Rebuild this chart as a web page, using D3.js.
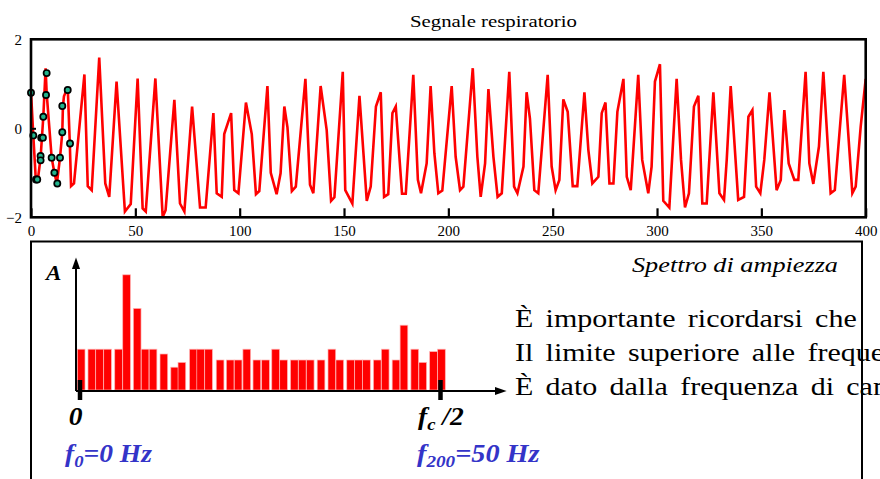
<!DOCTYPE html>
<html>
<head>
<meta charset="utf-8">
<script src="https://cdn.jsdelivr.net/npm/d3@7"></script>
<style>
  body { margin: 0; background: #fff; }
  svg { display: block; font-family: "Liberation Serif", "Times New Roman", serif; }
</style>
</head>
<body>
<div id="chart"></div>
<script>
// signal vertices (sample index, value)
const sampleT = [0, 1.1, 2.3, 3.3, 4.6, 5.9, 7.0, 7.5, 9.9, 11.2, 12.4, 13.9, 15.0, 15.3, 15.8, 17.6, 18.6, 19.2, 20.6,
  25.6, 27.2, 29.1, 32.7, 35.6, 37.5, 41.0, 45.0, 47.8, 51.1, 53.5, 55.0, 59.6, 63.1, 64.5, 68.7, 71.4, 73.5, 77.2,
  81.0, 83.7, 87.4, 89.0, 91.4, 92.6, 95.9, 97.4, 99.4, 103.0, 105.8, 107.8, 109.4, 113.3, 114.9, 117.7, 119.6,
  121.4, 122.9, 125.0, 126.9, 131.5, 133.7, 135.3, 138.8, 141.7, 143.8, 145.4, 149.4, 150.6, 154.0, 157.4, 160.9,
  162.8, 165.3, 167.6, 169.2, 171.2, 173.2, 174.8, 177.8, 179.6, 183.2, 185.4, 186.9, 189.6, 191.5, 193.3, 195.2,
  197.1, 201.6, 203.5, 205.6, 207.2, 211.7, 213.9, 215.5, 217.6, 219.2, 221.6, 223.6, 225.6, 229.2, 231.5, 233.1,
  236.0, 237.5, 239.1, 241.2, 243.1, 247.6, 249.5, 251.4, 253.2, 255.1, 257.2, 259.6, 261.8, 265.2, 267.1, 269.0,
  271.9, 273.5, 275.3, 277.2, 279.1, 281.0, 283.9, 285.5, 287.4, 291.0, 292.9, 295.8, 297.4, 299.0, 301.4, 303.0,
  305.9, 309.4, 311.5, 313.4, 315.3, 317.7, 319.8, 321.7, 323.8, 327.0, 329.9, 332.1, 333.4, 335.3, 338.9, 341.7,
  343.8, 345.7, 347.5, 349.5, 351.4, 353.9, 357.3, 359.3, 361.0, 363.1, 365.8, 367.7, 371.2, 373.0, 374.9, 377.6,
  379.7, 383.2, 385.2, 389.7, 393.6, 395.2, 397.6, 400.0];
const sampleV = [0.82, -0.16, -1.15, -1.15, -0.66, 0.26, 1.35, 0.79, -0.66, -1.0, -1.24, -0.66, -0.09, 0.50, 0.72, 0.92, -0.34, -1.30, -1.24,
  1.21, -1.30, -1.39, 1.59, -1.24, -1.54, 1.05, -1.87, -1.70, 1.12, -1.80, -1.87, 1.12, -1.99, -1.84, 0.64, -1.69, -1.87, 0.49,
  -1.78, -1.78, 0.34, -1.46, -1.54, -0.13, 0.34, -1.39, -1.46, 0.58, -0.13, -1.48, -1.41, 0.95, -1.00, -1.48, -1.01,
  0.49, 0.02, -1.41, -1.31, 1.11, -1.27, -1.46, 0.95, -0.04, -1.63, -1.55, 1.27, -1.39, -1.69, 0.73, -1.63,
  -1.31, 0.49, 0.81, -1.54, -1.48, 0.34, 0.49, -1.47, -1.47, 1.20, -1.16, -1.46, -0.79, 0.95, -0.56, -1.46,
  -1.40, 0.95, -0.64, -1.39, -1.31, 1.35, -0.64, -1.54, -0.79, 0.88, -0.64, -1.54, -1.46, 1.27, -1.31, -1.46,
  -0.86, 0.81, 0.22, -1.39, -1.46, 1.20, -0.86, -1.39, -1.16, 0.65, 0.37, -1.30, -1.30, 0.81, -0.49, -1.24,
  -1.09, 0.34, 0.58, -1.24, -1.24, 0.37, 1.11, -1.09, -1.39, 1.20, -0.71, -1.46, -0.86, 1.05, 1.44, -1.63,
  -1.78, 1.11, -0.71, -1.78, -1.46, 0.49, 0.73, -1.69, -1.69, 0.81, -1.46, -1.61, -0.71, 0.95, -1.61, -1.54,
  0.26, 0.41, -1.31, -1.46, -0.71, 0.81, -1.39, -1.16, 0.41, -0.79, -1.16, -1.16, 1.27, -0.79, -1.25, -0.41,
  1.27, -1.46, -1.39, 1.20, -1.46, -1.31, 0.04, 1.11];

// first samples marked with circles
const dotT = [0, 1.1, 2.4, 3.0, 4.6, 4.6, 4.9, 5.7, 5.9, 7.2, 7.5, 9.9, 11.2, 12.6, 13.9, 15.0, 15.0, 17.6, 18.7];
const dotV = [0.80, -0.16, -1.15, -1.15, -0.62, -0.72, -0.21, -0.21, 0.26, 0.75, 1.24, -0.66, -1.0, -1.24, -0.66, -0.09, 0.50, 0.86, -0.34];

const xTicks = [0, 50, 100, 150, 200, 250, 300, 350, 400];
const yTicks = [-2, 0, 2];

// amplitude spectrum bars (frequency in Hz, relative amplitude)
const barFreq = [0.23, 1.71, 2.78, 3.89, 5.42, 6.53, 8.0, 9.1, 10.2, 11.7, 13.2, 14.2, 15.8, 16.8, 17.9, 19.5, 20.9, 22.0,
  23.2, 24.6, 25.8, 27.2, 28.3, 29.8, 30.9, 32.0, 33.5, 35.0, 36.1, 37.6, 38.7, 39.8, 41.3, 42.4, 43.9, 45.0, 46.5, 47.6, 49.1, 50.2];
const barAmp = [0.34, 0.34, 0.34, 0.34, 0.34, 0.96, 0.68, 0.34, 0.34, 0.30, 0.19, 0.23, 0.34, 0.34, 0.34, 0.25, 0.25, 0.25,
  0.34, 0.25, 0.25, 0.34, 0.25, 0.25, 0.25, 0.25, 0.25, 0.34, 0.25, 0.25, 0.25, 0.25, 0.25, 0.34, 0.25, 0.54, 0.34, 0.23, 0.32, 0.34];
const freqTicks = [0, 50];

const textLines = [
  'È importante ricordarsi che',
  'Il limite superiore alle frequenze',
  'È dato dalla frequenza di campionamento'
];

const width = 880, height = 479;
const stretch = 1.2; // the original slide is stretched sideways

const svg = d3.select('#chart').append('svg')
  .attr('width', width)
  .attr('height', height);

// ---------- top panel: signal ----------
const frame = { left: 31, right: 865.7, top: 39.3, bottom: 217.3 };
const x = d3.scaleLinear().domain([0, 400]).range([frame.left, frame.right]);
const y = d3.scaleLinear().domain([-2, 2]).range([frame.bottom, frame.top]);

svg.append('text')
  .attr('x', 410)
  .attr('y', 27)
  .attr('textLength', 167)
  .attr('lengthAdjust', 'spacingAndGlyphs')
  .style('font-size', '17px')
  .text('Segnale respiratorio');

const line = d3.line()
  .x((d, i) => x(sampleT[i]))
  .y(d => y(d));

svg.append('path')
  .datum(sampleV)
  .attr('d', line)
  .attr('fill', 'none')
  .attr('stroke', '#ff0000')
  .attr('stroke-width', 2.6)
  .attr('stroke-linejoin', 'miter');

svg.selectAll('.dot')
  .data(dotV)
  .enter()
  .append('circle')
  .classed('dot', true)
  .attr('cx', (d, i) => x(dotT[i]))
  .attr('cy', d => y(d))
  .attr('r', 3.1)
  .attr('fill', '#22b38c')
  .attr('stroke', '#000')
  .attr('stroke-width', 1.7);

// inward ticks, then labels
svg.append('g')
  .attr('transform', `translate(0,${frame.bottom})`)
  .call(d3.axisTop(x).tickValues(xTicks).tickSize(9).tickSizeOuter(0).tickFormat(''))
  .call(g => g.select('.domain').remove())
  .selectAll('line').attr('stroke-width', 2.2);

svg.append('g')
  .attr('transform', `translate(0,${frame.bottom})`)
  .call(d3.axisBottom(x).tickValues(xTicks).tickSize(0).tickPadding(8))
  .call(g => g.select('.domain').remove())
  .selectAll('text')
  .style('font-family', '"Liberation Serif", serif')
  .style('font-size', '15px')
  .attr('fill', '#000');

svg.append('g')
  .attr('transform', `translate(${frame.left},0)`)
  .call(d3.axisRight(y).tickValues([0]).tickSize(5).tickFormat(''))
  .call(g => g.select('.domain').remove())
  .selectAll('line').attr('stroke-width', 2);

svg.append('g')
  .attr('transform', `translate(${frame.left},0)`)
  .call(d3.axisLeft(y).tickValues(yTicks).tickSize(0).tickPadding(9).tickFormat(d3.format('d')))
  .call(g => g.select('.domain').remove())
  .selectAll('text')
  .style('font-family', '"Liberation Serif", serif')
  .style('font-size', '15px')
  .attr('fill', '#000');

svg.append('rect')
  .attr('x', frame.left)
  .attr('y', frame.top)
  .attr('width', frame.right - frame.left)
  .attr('height', frame.bottom - frame.top)
  .attr('fill', 'none')
  .attr('stroke', '#000')
  .attr('stroke-width', 2.6);

// ---------- bottom panel: spectrum ----------
const f = d3.scaleLinear().domain([0, 50]).range([79.5, 440]);
const a = d3.scaleLinear().domain([0, 1]).range([390, 270]);
const barW = 7.7;

svg.selectAll('.bar')
  .data(barAmp)
  .enter()
  .append('rect')
  .classed('bar', true)
  .attr('x', (d, i) => f(barFreq[i]) - barW / 2)
  .attr('y', d => a(d))
  .attr('width', barW)
  .attr('height', d => a(0) - a(d))
  .attr('fill', '#ff0000')
  .attr('stroke', '#ffb3b3')
  .attr('stroke-width', 0.7);

// arrows
const defs = svg.append('defs');
defs.append('marker')
  .attr('id', 'arrow')
  .attr('viewBox', '0 0 10 10')
  .attr('refX', 2)
  .attr('refY', 5)
  .attr('markerWidth', 6)
  .attr('markerHeight', 6)
  .attr('orient', 'auto')
  .append('path')
  .attr('d', 'M0,1.5L10,5L0,8.5z')
  .attr('fill', '#000');

svg.append('line')
  .attr('x1', 76).attr('y1', a(0) + 1)
  .attr('x2', 497).attr('y2', a(0) + 1)
  .attr('stroke', '#000')
  .attr('stroke-width', 2)
  .attr('marker-end', 'url(#arrow)');

svg.append('line')
  .attr('x1', 76).attr('y1', a(0) + 1)
  .attr('x2', 76).attr('y2', 267)
  .attr('stroke', '#000')
  .attr('stroke-width', 2)
  .attr('marker-end', 'url(#arrow)');

svg.append('g')
  .attr('transform', `translate(0,${a(0) + 1})`)
  .call(d3.axisBottom(f).tickValues(freqTicks).tickSize(9).tickFormat(''))
  .call(g => g.select('.domain').remove())
  .selectAll('line')
  .attr('y1', -11)
  .attr('stroke-width', 4.5);

const label = (xPos, yPos, anchor, sx) => svg.append('text')
  .attr('transform', `translate(${xPos},${yPos}) scale(${sx},1)`)
  .attr('text-anchor', anchor)
  .style('font-size', '25px')
  .style('font-weight', 'bold')
  .style('font-style', 'italic');

label(46, 280, 'start', 1.1).style('font-size', '21px').text('A');
label(f(0) - 4, 425, 'middle', 1.1).text('0');

const fc = label(418, 425, 'start', 1.1);
fc.append('tspan').text('f');
fc.append('tspan').attr('dy', 5).style('font-size', '17px').text('c');
fc.append('tspan').attr('dy', -5).text(' /2');

const f0 = label(65, 462, 'start', 1.1).attr('fill', '#3434c8');
f0.append('tspan').text('f');
f0.append('tspan').attr('dy', 5).style('font-size', '17px').text('0');
f0.append('tspan').attr('dy', -5).text('=0 Hz');

const f200 = label(417, 462, 'start', 1.13).attr('fill', '#3434c8');
f200.append('tspan').text('f');
f200.append('tspan').attr('dy', 5).style('font-size', '17px').text('200');
f200.append('tspan').attr('dy', -5).text('=50 Hz');

svg.append('text')
  .attr('x', 632)
  .attr('y', 272)
  .attr('textLength', 206)
  .attr('lengthAdjust', 'spacingAndGlyphs')
  .style('font-size', '21px')
  .style('font-style', 'italic')
  .text('Spettro di ampiezza');

svg.selectAll('.note')
  .data(textLines)
  .enter()
  .append('text')
  .classed('note', true)
  .attr('transform', (d, i) => `translate(515,${327 + i * 34}) scale(${stretch},1)`)
  .style('font-size', '25px')
  .style('word-spacing', '4px')
  .text(d => d);

// panel box drawn over the text
svg.append('path')
  .attr('d', `M31,${height + 5}V241.5H862V${height + 5}`)
  .attr('fill', 'none')
  .attr('stroke', '#000')
  .attr('stroke-width', 2);
</script>
</body>
</html>
